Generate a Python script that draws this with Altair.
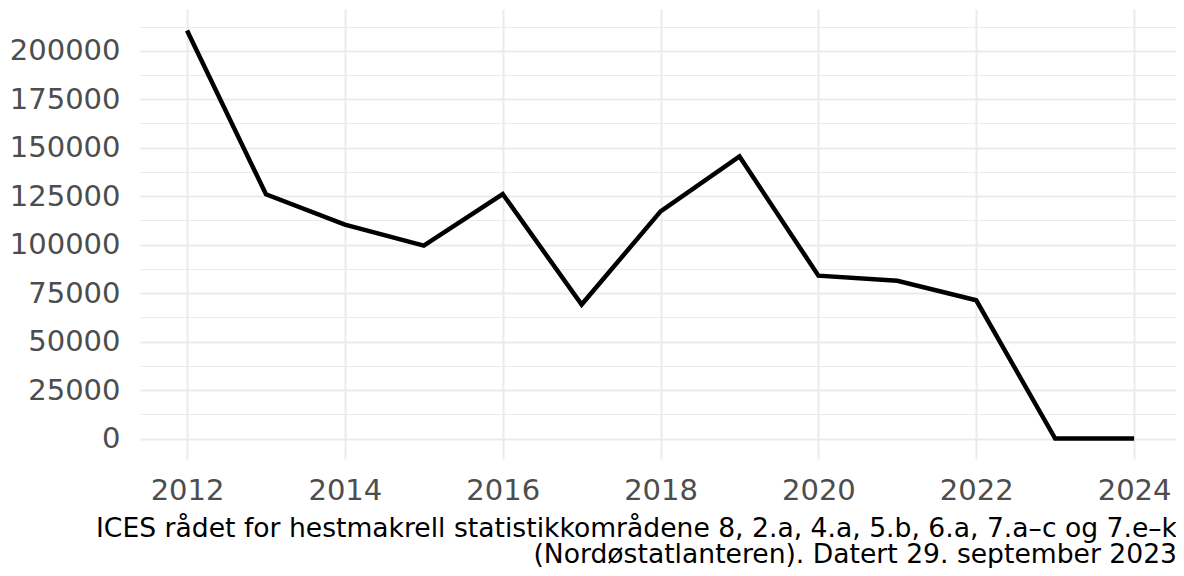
import altair as alt
import pandas as pd

years = [2012, 2013, 2014, 2015, 2016, 2017, 2018, 2019, 2020, 2021, 2022, 2023, 2024]
values = [210500, 126000, 110300, 99500, 126100, 69100, 117200, 145500, 84000, 81400, 71300, 0, 0]
x_ticks = [2012, 2014, 2016, 2018, 2020, 2022, 2024]
y_ticks = [i * 12500 for i in range(18)]
caption = [
    "ICES rådet for hestmakrell statistikkområdene 8, 2.a, 4.a, 5.b, 6.a, 7.a–c og 7.e–k",
    "(Nordøstatlanteren). Datert 29. september 2023",
]

df = pd.DataFrame({"year": years, "value": values})

FONT = "DejaVu Sans"

chart = (
    alt.Chart(df)
    .mark_line(color="black", strokeWidth=4.5, strokeCap="butt", strokeJoin="miter", clip=True)
    .encode(
        x=alt.X(
            "year:Q",
            scale=alt.Scale(domain=[2011.404, 2024.531], nice=False, zero=False),
            axis=alt.Axis(
                values=x_ticks,
                format="d",
                title=None,
                domain=False,
                ticks=False,
                labelFont=FONT,
                labelFontSize=29,
                labelColor="#4d4d4d",
                labelPadding=17,
                labelFlush=False,
                labelOverlap=False,
                gridColor="#ebebeb",
                gridWidth=2,
            ),
        ),
        y=alt.Y(
            "value:Q",
            scale=alt.Scale(domain=[-10550, 221550], nice=False, zero=False),
            axis=alt.Axis(
                values=y_ticks,
                format="d",
                title=None,
                domain=False,
                ticks=False,
                labelFont=FONT,
                labelFontSize=29,
                labelColor="#4d4d4d",
                labelPadding=20,
                labelOverlap=False,
                labelExpr="datum.value % 25000 === 0 ? datum.label : ''",
                gridColor="#ebebeb",
                gridWidth={"condition": {"test": "datum.value % 25000 === 0", "value": 2}, "value": 1},
            ),
        ),
    )
    .properties(
        width=1036,
        height=450,
        autosize="none",
        background="white",
        padding={"left": 132, "top": 1, "right": 0, "bottom": 109},
        title=alt.TitleParams(
            text=caption,
            orient="bottom",
            anchor="end",
            font=FONT,
            fontSize=26.6,
            fontWeight="normal",
            color="black",
            lineHeight=26,
            offset=11,
            dx=1,
        ),
    )
    .configure_view(stroke=None, strokeWidth=0)
)

chart.save("out.html", embed_options={"renderer": "svg", "actions": False})
